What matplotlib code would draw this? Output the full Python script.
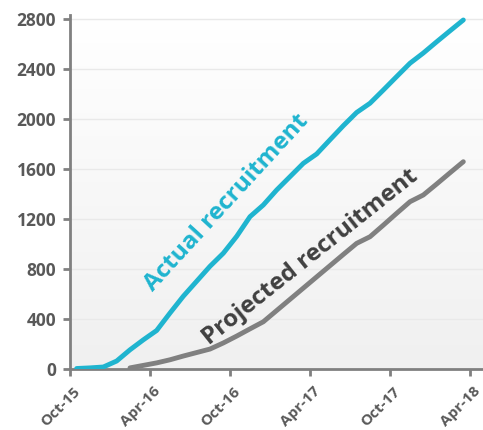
import matplotlib
matplotlib.use("Agg")
import matplotlib.pyplot as plt
import matplotlib.transforms as mtransforms
from matplotlib.colors import LinearSegmentedColormap
import numpy as np

# Months since Oct-2015 (mid-month points)
actual_months = [0.5 + k for k in range(30)]
actual_values = [0, 5, 12, 60, 150, 230, 305, 445, 580, 700, 820, 925, 1060, 1218,
                 1312, 1432, 1539, 1646, 1721, 1835, 1948, 2054, 2128, 2234, 2342,
                 2449, 2531, 2621, 2709, 2796]
projected_months = [4.5 + k for k in range(26)]
projected_values = [5, 25, 45, 70, 100, 128, 156, 205, 260, 318, 375, 465, 555, 645,
                    735, 825, 915, 1004, 1057, 1150, 1245, 1338, 1392, 1480, 1570, 1659]
tick_positions = [0, 6, 12, 18, 24, 30]
tick_labels = ["Oct-15", "Apr-16", "Oct-16", "Apr-17", "Oct-17", "Apr-18"]
y_ticks = [0, 400, 800, 1200, 1600, 2000, 2400, 2800]

plt.rcParams['font.family'] = ['Open Sans', 'DejaVu Sans']

fig = plt.figure(figsize=(4.83, 4.30), dpi=100)
ax = fig.add_axes([70/483, (430-368.5)/430, (483-70)/483, (368.5-15)/430])

xmax = (483-70)/13.333
ymax = 2836
ax.set_xlim(0, xmax)
ax.set_ylim(0, ymax)

# gradient background
grad = np.linspace(0, 1, 256).reshape(-1, 1)
cmap = LinearSegmentedColormap.from_list("bg", ["#f0f0f0", "#ffffff"])
ax.imshow(grad, aspect='auto', cmap=cmap, origin='lower',
          extent=[0, xmax, 0, 2800], zorder=0)

for yv in y_ticks[1:]:
    ax.axhline(yv, color='#e9e9e9', lw=1.0, zorder=1)

blue = '#1fb4cf'
grey = '#808080'
ax.plot(actual_months, actual_values, color=blue, lw=3.5, solid_capstyle='round',
        solid_joinstyle='round', zorder=3)
ax.plot(projected_months, projected_values, color=grey, lw=3.5, solid_capstyle='round',
        solid_joinstyle='round', zorder=3)

ax.text(11.75, 1330, "Actual recruitment", color=blue, fontsize=17.5, fontweight='bold',
        rotation=47.5, ha='center', va='center', rotation_mode='anchor', zorder=4)
ax.text(18.0, 890, "Projected recruitment", color='#404040', fontsize=17.5,
        fontweight='bold', rotation=38.5, ha='center', va='center',
        rotation_mode='anchor', zorder=4)

for s in ['top', 'right']:
    ax.spines[s].set_visible(False)
for s in ['left', 'bottom']:
    ax.spines[s].set_color(grey)
    ax.spines[s].set_linewidth(2)

ax.set_yticks(y_ticks)
ax.set_yticklabels([str(v) for v in y_ticks])
ax.set_xticks(tick_positions)
ax.set_xticklabels(tick_labels, rotation=45, ha='right', va='top', rotation_mode='anchor')
ax.tick_params(axis='both', colors=grey, length=5, width=2, direction='out')
for lab in ax.get_yticklabels():
    lab.set_color('#595959')
    lab.set_fontweight('bold')
    lab.set_fontsize(12.5)
for lab in ax.get_xticklabels():
    lab.set_color('#595959')
    lab.set_fontweight('bold')
    lab.set_fontsize(11)
ax.tick_params(axis='y', pad=5)
ax.tick_params(axis='x', pad=2)
offset = mtransforms.ScaledTranslation(3/100, -6/100, fig.dpi_scale_trans)
for lab in ax.get_xticklabels():
    lab.set_transform(lab.get_transform() + offset)

fig.savefig("out.png", dpi=100)
